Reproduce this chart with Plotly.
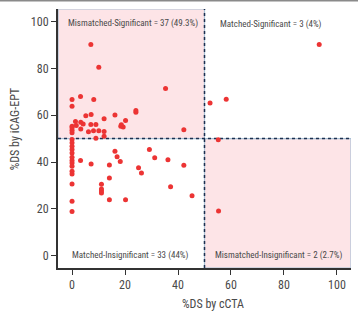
import plotly.graph_objects as go

# %DS by cCTA (x) and %DS by iCAG-EPT (y)
cCTA = [
    # mismatched-significant (x<50, y>50)
    7.1, 10.1, 0, 3.2, 0, 8.2, 16.2, 5.2, 7.2, 24.1, 24.1, 12.1, 1.3, 3.3, 4.2,
    0, 1.6, 0, 0, 0, 3.3, 7.1, 9.0, 6.2, 8.1, 10.1, 12.1, 12.1, 18.4, 19.3, 18.6,
    20.2, 35.3, 42.2, 9.0,
    # matched-significant
    52.1, 58.2, 93.3,
    # matched-insignificant (x<50, y<50)
    0, 0, 0, 0, 0, 0, 0, 0, 0, 0, 0, 0, 0, 0,
    3.2, 7.2, 11.1, 11.1, 11.1, 11.1, 14.1, 14.1, 14.1, 20.2, 16.2, 17.0, 18.2,
    25.1, 26.2, 29.2, 31.2, 36.2, 37.2, 42.2, 45.3,
    # mismatched-insignificant
    55.2, 55.3,
]
iCAG = [
    90.2, 80.5, 66.7, 68.0, 63.8, 66.7, 60.1, 59.8, 60.3, 61.3, 62.0, 58.5, 57.3, 57.0, 56.3,
    55.3, 55.6, 54.6, 53.6, 52.5, 54.1, 56.0, 56.0, 52.9, 53.4, 53.4, 53.0, 51.0, 55.3, 55.0, 55.9,
    57.7, 71.4, 53.8, 50.2,
    65.2, 66.8, 90.2,
    49.6, 48.2, 46.7, 45.3, 43.9, 42.0, 40.7, 39.6, 38.2, 36.0, 34.9, 30.6, 23.2, 18.9,
    40.6, 39.1, 30.5, 28.5, 27.6, 26.8, 38.7, 33.2, 23.9, 23.9, 44.6, 42.2, 40.2,
    37.6, 35.3, 45.4, 41.8, 41.0, 29.4, 38.6, 25.6,
    49.5, 19.1,
]
tick_vals = [0, 20, 40, 60, 80, 100]
quadrant_labels = [
    "Mismatched-Significant = 37 (49.3%)",
    "Matched-Significant = 3 (4%)",
    "Matched-Insignificant = 33 (44%)",
    "Mismatched-Insignificant = 2 (2.7%)",
]
cutoff = 50
x_title = "%DS by cCTA"
y_title = "%DS by iCAG-EPT"

XR = [-5.3, 105.3]
YR = [-5.3, 105.4]
FONT = "Liberation Sans Narrow, Roboto Condensed, DejaVu Sans Condensed, Roboto, sans-serif"
PINK = "#fde4e7"
EDGE = "#a9c1d6"
DOT = "#1d3050"

fig = go.Figure()
fig.add_trace(go.Scatter(
    x=cCTA, y=iCAG, mode="markers",
    marker=dict(color="#ec3434", size=5, line=dict(width=0)),
    hoverinfo="skip", showlegend=False,
))

shapes = [
    dict(type="rect", xref="x", yref="y", x0=XR[0], x1=cutoff, y0=cutoff, y1=YR[1],
         fillcolor=PINK, line=dict(color=EDGE, width=1.2), layer="below"),
    dict(type="rect", xref="x", yref="y", x0=cutoff, x1=XR[1], y0=YR[0], y1=cutoff,
         fillcolor=PINK, line=dict(color=EDGE, width=1.2), layer="below"),
    dict(type="line", xref="x", yref="y", x0=cutoff, x1=cutoff, y0=YR[0], y1=YR[1],
         line=dict(color=DOT, width=1.5, dash="dot"), layer="below"),
    dict(type="line", xref="x", yref="y", x0=XR[0], x1=XR[1], y0=cutoff, y1=cutoff,
         line=dict(color=DOT, width=1.5, dash="dot"), layer="below"),
    dict(type="line", xref="paper", yref="paper", x0=-0.25, x1=1.05, y0=1.033, y1=1.033,
         line=dict(color="#8a8a8a", width=2)),
]

ann_font = dict(family=FONT, size=9, color="#4a4a4a")
annotations = [
    dict(x=-2.1, y=99.0, text=quadrant_labels[0], xanchor="left", yanchor="middle"),
    dict(x=55.0, y=98.7, text=quadrant_labels[1], xanchor="left", yanchor="middle"),
    dict(x=-0.9, y=0, text=quadrant_labels[2], xanchor="left", yanchor="middle"),
    dict(x=53.1, y=0, text=quadrant_labels[3], xanchor="left", yanchor="middle"),
]
for a in annotations:
    a.update(xref="x", yref="y", showarrow=False, font=ann_font)

annotations.append(dict(xref="paper", yref="paper", x=0.529, y=-0.138, text=x_title,
                        showarrow=False, xanchor="center", yanchor="middle",
                        font=dict(family=FONT, size=12, color="#4a4a4a")))
annotations.append(dict(xref="paper", yref="paper", x=-0.148, y=0.534, text=y_title,
                        showarrow=False, xanchor="center", yanchor="middle", textangle=-90,
                        font=dict(family=FONT, size=12, color="#4a4a4a")))

axis_common = dict(
    tickvals=tick_vals, showgrid=False, zeroline=False,
    showline=True, linecolor="#333333", linewidth=2,
    ticks="outside", ticklen=5, tickwidth=1.3, tickcolor="#333333",
    tickfont=dict(family=FONT, size=12, color="#4a4a4a"),
)

fig.update_layout(
    width=358, height=311,
    margin=dict(l=58, r=7, t=9, b=43),
    plot_bgcolor="white", paper_bgcolor="white",
    xaxis=dict(range=XR, **axis_common),
    yaxis=dict(range=YR, **axis_common),
    shapes=shapes, annotations=annotations,
)

fig.write_html("out.html")
